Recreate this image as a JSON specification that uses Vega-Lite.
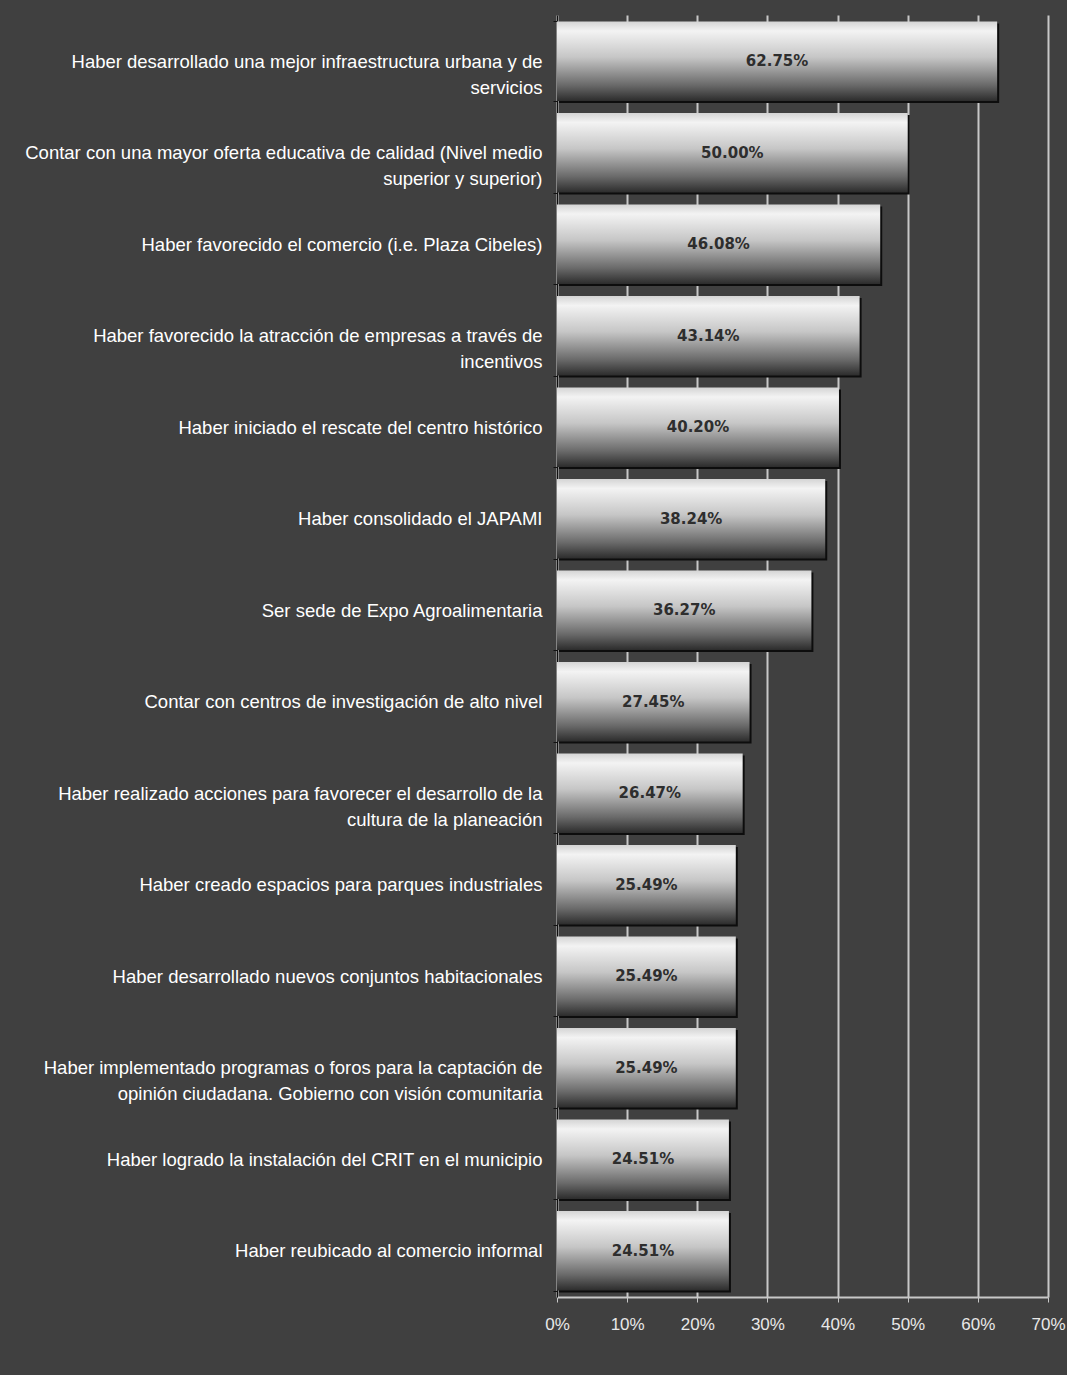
{
  "$schema": "https://vega.github.io/schema/vega-lite/v6.json",
  "width": 491,
  "height": 1282,
  "autosize": {"type": "none"},
  "padding": {"left": 557, "top": 15, "right": 19, "bottom": 78},
  "background": "#404040",
  "config": {"view": {"stroke": null}},
  "data": {
    "values": [
      {"label": "Haber desarrollado una mejor infraestructura urbana y de|servicios", "value": 0.6275},
      {"label": "Contar con una mayor oferta educativa de calidad (Nivel medio|superior y superior)", "value": 0.5},
      {"label": "Haber favorecido el comercio (i.e. Plaza Cibeles)", "value": 0.4608},
      {"label": "Haber favorecido la atracción de empresas a través de|incentivos", "value": 0.4314},
      {"label": "Haber iniciado el rescate del centro histórico", "value": 0.402},
      {"label": "Haber consolidado el JAPAMI", "value": 0.3824},
      {"label": "Ser sede de Expo Agroalimentaria", "value": 0.3627},
      {"label": "Contar con centros de investigación de alto nivel", "value": 0.2745},
      {"label": "Haber realizado acciones para favorecer el desarrollo de la|cultura de la planeación", "value": 0.2647},
      {"label": "Haber creado espacios para parques industriales", "value": 0.2549},
      {"label": "Haber desarrollado nuevos conjuntos habitacionales", "value": 0.2549},
      {"label": "Haber implementado programas o foros para la captación de|opinión ciudadana. Gobierno con visión comunitaria", "value": 0.2549},
      {"label": "Haber logrado la instalación del CRIT en el municipio", "value": 0.2451},
      {"label": "Haber reubicado al comercio informal", "value": 0.2451}
    ]
  },
  "transform": [{"calculate": "datum.value / 2", "as": "mid"}],
  "encoding": {
    "y": {
      "field": "label",
      "type": "nominal",
      "sort": null,
      "scale": {"paddingInner": 0.13, "paddingOuter": 0.07},
      "axis": {
        "title": null,
        "labelExpr": "split(datum.label, '|')",
        "labelColor": "#ffffff",
        "labelFont": "Liberation Sans",
        "labelFontSize": 18.5,
        "labelLineHeight": 26,
        "labelPadding": 11,
        "labelLimit": 600,
        "tickBand": "extent",
        "tickSize": 4,
        "tickColor": "#111111",
        "domainColor": "#111111",
        "grid": false
      }
    }
  },
  "layer": [
    {
      "mark": {"type": "bar", "fill": "#0d0d0d", "xOffset": 2, "x2Offset": 2, "yOffset": 2, "y2Offset": 2},
      "encoding": {
        "x": {
          "field": "value",
          "type": "quantitative",
          "scale": {"domain": [0, 0.7], "nice": false},
          "axis": {
            "title": null,
            "format": ".0%",
            "values": [0, 0.1, 0.2, 0.3, 0.4, 0.5, 0.6, 0.7],
            "grid": true,
            "gridColor": "#c8c8c8",
            "gridWidth": 2,
            "domainColor": "#c8c8c8",
            "domainWidth": 2,
            "tickColor": "#c8c8c8",
            "tickSize": 5,
            "labelColor": "#e8e8e8",
            "labelFont": "Liberation Sans",
            "labelFontSize": 17,
            "labelPadding": 14,
            "labelFlush": false,
            "labelOverlap": false
          }
        }
      }
    },
    {
      "mark": {
        "type": "bar",
        "fill": {
          "gradient": "linear",
          "x1": 0, "y1": 0, "x2": 0, "y2": 1,
          "stops": [
            {"offset": 0, "color": "#d4d4d4"},
            {"offset": 0.12, "color": "#f3f3f3"},
            {"offset": 0.45, "color": "#c6c6c6"},
            {"offset": 0.8, "color": "#6a6a6a"},
            {"offset": 1, "color": "#2c2c2c"}
          ]
        }
      },
      "encoding": {"x": {"field": "value", "type": "quantitative"}}
    },
    {
      "mark": {"type": "text", "font": "DejaVu Sans", "fontWeight": "bold", "fontSize": 15, "color": "#2e2e2e", "align": "center", "baseline": "middle"},
      "encoding": {
        "x": {"field": "mid", "type": "quantitative"},
        "text": {"field": "value", "type": "quantitative", "format": ".2%"}
      }
    }
  ]
}
